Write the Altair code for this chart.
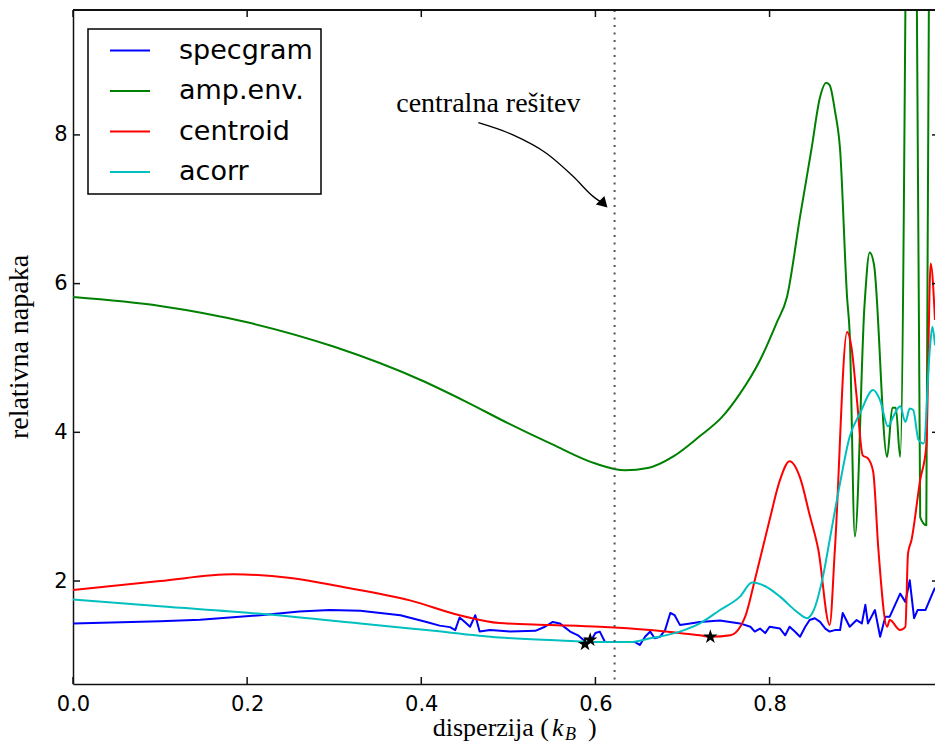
import altair as alt
import pandas as pd

# ---------------- data ----------------
names = ["specgram", "amp.env.", "centroid", "acorr"]
colors = ["#0000ff", "#008000", "#ff0000", "#00bfbf"]

spec_x = [0, 0.1, 0.146, 0.215, 0.26, 0.295, 0.33, 0.376, 0.406, 0.421,
          0.433, 0.439, 0.444, 0.45, 0.456, 0.462, 0.467, 0.479, 0.502, 0.531,
          0.542, 0.551, 0.559, 0.571, 0.58, 0.589, 0.594, 0.6, 0.605, 0.611,
          0.628, 0.645, 0.651, 0.657, 0.663, 0.668, 0.674, 0.68, 0.686, 0.691,
          0.697, 0.709, 0.72, 0.743, 0.766, 0.778, 0.783, 0.789, 0.795, 0.80,
          0.812, 0.818, 0.823, 0.829, 0.835, 0.841, 0.846, 0.852, 0.858, 0.864,
          0.869, 0.875, 0.881, 0.884, 0.892, 0.9, 0.906, 0.91, 0.913, 0.921,
          0.927, 0.933, 0.938, 0.95, 0.956, 0.961, 0.966, 0.97, 0.979, 0.987, 0.99]
spec_y = [1.43, 1.46, 1.48, 1.54, 1.59, 1.61, 1.60, 1.54, 1.45, 1.40,
          1.38, 1.34, 1.51, 1.45, 1.385, 1.54, 1.32, 1.34, 1.32, 1.33,
          1.385, 1.45, 1.43, 1.32, 1.27, 1.18, 1.18, 1.30, 1.32, 1.18,
          1.18, 1.18, 1.14, 1.25, 1.32, 1.23, 1.25, 1.34, 1.57, 1.54,
          1.41, 1.43, 1.45, 1.47, 1.43, 1.385, 1.32, 1.36, 1.30, 1.385,
          1.36, 1.27, 1.385, 1.32, 1.25, 1.385, 1.475, 1.50, 1.45, 1.36,
          1.32, 1.34, 1.34, 1.57, 1.385, 1.475, 1.43, 1.68, 1.43, 1.61,
          1.25, 1.52, 1.52, 1.83, 1.72, 2.01, 1.50, 1.61, 1.61, 1.83, 1.91]

amp_x = [0, 0.1, 0.2, 0.3, 0.4, 0.45, 0.5, 0.55, 0.6, 0.634,
         0.66, 0.69, 0.72, 0.745, 0.766, 0.789, 0.808, 0.82, 0.835, 0.848,
         0.858, 0.865, 0.869, 0.875, 0.881, 0.889, 0.892, 0.898, 0.909, 0.915,
         0.92, 0.935, 0.941, 0.945, 0.95, 0.964, 0.973, 0.98, 0.99]
amp_y = [5.82, 5.70, 5.48, 5.15, 4.70, 4.42, 4.12, 3.84, 3.58, 3.49,
         3.52, 3.68, 3.95, 4.2, 4.52, 4.97, 5.47, 5.82, 6.90, 7.80,
         8.51, 8.70, 8.67, 8.33, 7.80, 5.82, 5.34, 2.60, 5.70, 6.42,
         6.25, 3.67, 4.33, 4.33, 3.67, 19.0, 2.86, 2.75, 26.3]

cen_x = [0, 0.1, 0.184, 0.25, 0.31, 0.387, 0.444, 0.49, 0.548, 0.605,
         0.663, 0.697, 0.72, 0.733, 0.755, 0.772, 0.783, 0.80, 0.812, 0.823,
         0.835, 0.846, 0.856, 0.869, 0.875, 0.889, 0.894, 0.9, 0.907, 0.913,
         0.919, 0.925, 0.935, 0.938, 0.95, 0.956, 0.959, 0.963, 0.973, 0.98,
         0.985, 0.99]
cen_y = [1.88, 2.0, 2.09, 2.04, 1.92, 1.74, 1.54, 1.435, 1.41, 1.385,
         1.34, 1.30, 1.27, 1.25, 1.27, 1.52, 2.01, 2.82, 3.36, 3.61,
         3.39, 2.89, 2.42, 1.41, 2.42, 5.35, 5.15, 4.48, 3.69, 3.65,
         3.47, 2.42, 1.385, 1.475, 1.34, 1.385, 2.37, 2.55, 3.36, 3.81,
         6.27, 5.51]

ac_x = [0, 0.1, 0.215, 0.33, 0.406, 0.49, 0.559, 0.605, 0.64, 0.663,
        0.697, 0.72, 0.743, 0.766, 0.78, 0.795, 0.812, 0.831, 0.843, 0.85,
        0.862, 0.869, 0.881, 0.892, 0.904, 0.919, 0.927, 0.936, 0.942, 0.95,
        0.956, 0.961, 0.965, 0.971, 0.977, 0.984, 0.987, 0.99]
ac_y = [1.75, 1.66, 1.56, 1.43, 1.34, 1.24, 1.20, 1.18, 1.18, 1.23,
        1.32, 1.43, 1.61, 1.79, 1.98, 1.93, 1.79, 1.59, 1.50, 1.59,
        2.10, 2.55, 3.32, 3.94, 4.26, 4.57, 4.43, 4.08, 4.21, 4.35,
        4.14, 4.32, 4.30, 3.90, 3.85, 5.11, 5.42, 5.17]

star_x = [0.588, 0.594, 0.732]
star_y = [1.15, 1.21, 1.25]

center_x = [0.622]

ann_text = ["centralna rešitev"]
ann_x = [0.477]
ann_y = [8.31]

arrow_x = [0.4655, 0.5053, 0.544, 0.5746, 0.5976, 0.6096]
arrow_y = [8.164, 8.0, 7.75, 7.44, 7.17, 7.073]

x_ticks = [0.0, 0.2, 0.4, 0.6, 0.8]
y_ticks = [2, 4, 6, 8]

# ---------------- tables ----------------
rows = []
for name, xs_, ys_ in [("specgram", spec_x, spec_y), ("amp.env.", amp_x, amp_y),
                       ("centroid", cen_x, cen_y), ("acorr", ac_x, ac_y)]:
    for i, (a, b) in enumerate(zip(xs_, ys_)):
        rows.append({"series": name, "x": a, "y": b, "i": i})
df = pd.DataFrame(rows)

stars = pd.DataFrame({"x": star_x, "y": star_y})
vline = pd.DataFrame({"x": center_x})
ann = pd.DataFrame({"x": ann_x, "y": ann_y, "t": ann_text})
arrow = pd.DataFrame({"x": arrow_x, "y": arrow_y, "i": list(range(len(arrow_x)))})
head = pd.DataFrame({"x": arrow_x[-1:], "y": arrow_y[-1:]})
xt = pd.DataFrame({"t": x_ticks})
yt = pd.DataFrame({"t": y_ticks})

W, H = 862, 674
xsc = alt.Scale(domain=[0, 0.99], nice=False, zero=False)
ysc = alt.Scale(domain=[0.615, 9.68], nice=False, zero=False)

SPINE = "#111111"

x_axis = alt.Axis(values=x_ticks, format=".1f", labelFont="DejaVu Sans", labelFontSize=21,
                  labelColor="black", ticks=False, tickSize=0, domainColor=SPINE, domainWidth=1.5,
                  grid=False, title=None, labelPadding=9, labelFlush=False)
y_axis = alt.Axis(values=y_ticks, format="d", labelFont="DejaVu Sans", labelFontSize=21,
                  labelColor="black", ticks=False, tickSize=0, domainColor=SPINE, domainWidth=1.5,
                  grid=False, labelPadding=6, labelFlush=False,
                  title="relativna napaka", titleFont="Liberation Serif", titleFontSize=28,
                  titleFontWeight="normal", titleColor="black", titleAngle=270,
                  titleAlign="center", titleBaseline="alphabetic", titleX=-46, titleY=336.5)

legend = alt.Legend(title=None, orient="none", legendX=15, legendY=19, symbolType="stroke",
                    symbolSize=1600, symbolStrokeWidth=2, labelFont="DejaVu Sans",
                    labelFontSize=27, labelColor="black", labelOffset=28, padding=8,
                    rowPadding=12.5, strokeColor="black", fillColor="white", symbolOffset=13,
                    clipHeight=27, labelLimit=400)

color = alt.Color("series:N", scale=alt.Scale(domain=names, range=colors), legend=legend)


def X(field):
    return alt.X(field, type="quantitative", scale=xsc, axis=x_axis)


def Y(field):
    return alt.Y(field, type="quantitative", scale=ysc, axis=y_axis)


def series_layer(name, interp):
    return alt.Chart(df).transform_filter(alt.datum.series == name).mark_line(
        strokeWidth=2, clip=True, strokeJoin="round", interpolate=interp).encode(
        x=X("x"), y=Y("y"), color=color, order="i:Q")


lines = [series_layer("specgram", "linear"), series_layer("amp.env.", "monotone"),
         series_layer("centroid", "monotone"), series_layer("acorr", "monotone")]

dotted = alt.Chart(vline).mark_rule(color="#555555", strokeWidth=2, strokeDash=[2, 5.5]).encode(
    x=X("x"))

star_path = ("M0,-1L0.2245,-0.309L0.9511,-0.309L0.3633,0.118L0.5878,0.809L0,0.382"
             "L-0.5878,0.809L-0.3633,0.118L-0.9511,-0.309L-0.2245,-0.309Z")
star_layer = alt.Chart(stars).mark_point(shape=star_path, filled=True, color="black",
                                         size=230, opacity=1).encode(x=X("x"), y=Y("y"))

ann_layer = alt.Chart(ann).mark_text(font="Liberation Serif", fontSize=28, align="center",
                                     baseline="alphabetic", color="black").encode(
    x=X("x"), y=Y("y"), text="t:N")

arrow_line = alt.Chart(arrow).mark_line(color="black", strokeWidth=1.3, interpolate="monotone").encode(
    x=X("x"), y=Y("y"), order="i:Q")
arrow_head = alt.Chart(head).mark_point(shape="triangle-right", filled=True, color="black",
                                        size=144, angle=45, opacity=1).encode(x=X("x"), y=Y("y"))

# inward ticks and top spine
tick_style = dict(color=SPINE, strokeWidth=1.5)
bottom_ticks = alt.Chart(xt).mark_rule(**tick_style).encode(
    x=X("t"), y=alt.value(H), y2=alt.value(H - 7))
top_ticks = alt.Chart(xt).mark_rule(**tick_style).encode(
    x=X("t"), y=alt.value(0), y2=alt.value(7))
left_ticks = alt.Chart(yt).mark_rule(**tick_style).encode(
    y=Y("t"), x=alt.value(0), x2=alt.value(7))
right_ticks = alt.Chart(yt).mark_rule(**tick_style).encode(
    y=Y("t"), x=alt.value(W - 3), x2=alt.value(W))
top_spine = alt.Chart(xt).mark_rule(**tick_style).encode(
    x=alt.value(0), x2=alt.value(W), y=alt.value(0))

# x axis title: disperzija (k_B)
tx = pd.DataFrame({"a": [0]})
t_main = alt.Chart(tx).mark_text(text="disperzija (", font="Liberation Serif", fontSize=26,
                                 align="right", baseline="alphabetic", color="black").encode(
    x=alt.value(476), y=alt.value(726))
t_k = alt.Chart(tx).mark_text(text="k", font="Liberation Serif", fontSize=26, fontStyle="italic",
                              align="left", baseline="alphabetic", color="black").encode(
    x=alt.value(479), y=alt.value(726))
t_b = alt.Chart(tx).mark_text(text="B", font="Liberation Serif", fontSize=18, fontStyle="italic",
                              align="left", baseline="alphabetic", color="black").encode(
    x=alt.value(492), y=alt.value(730))
t_p = alt.Chart(tx).mark_text(text=")", font="Liberation Serif", fontSize=26,
                              align="left", baseline="alphabetic", color="black").encode(
    x=alt.value(515), y=alt.value(726))

chart = alt.layer(
    *lines, dotted, star_layer, ann_layer, arrow_line, arrow_head,
    bottom_ticks, top_ticks, left_ticks, right_ticks, top_spine,
    t_main, t_k, t_b, t_p
).properties(
    width=W, height=H,
    padding={"left": 73, "top": 10, "right": 0, "bottom": 61},
    autosize=alt.AutoSizeParams(type="none"),
    background="white",
).configure_view(stroke=None).configure_legend(strokeWidth=1.5)

chart.save("out.html", embed_options={"renderer": "svg", "actions": False})
